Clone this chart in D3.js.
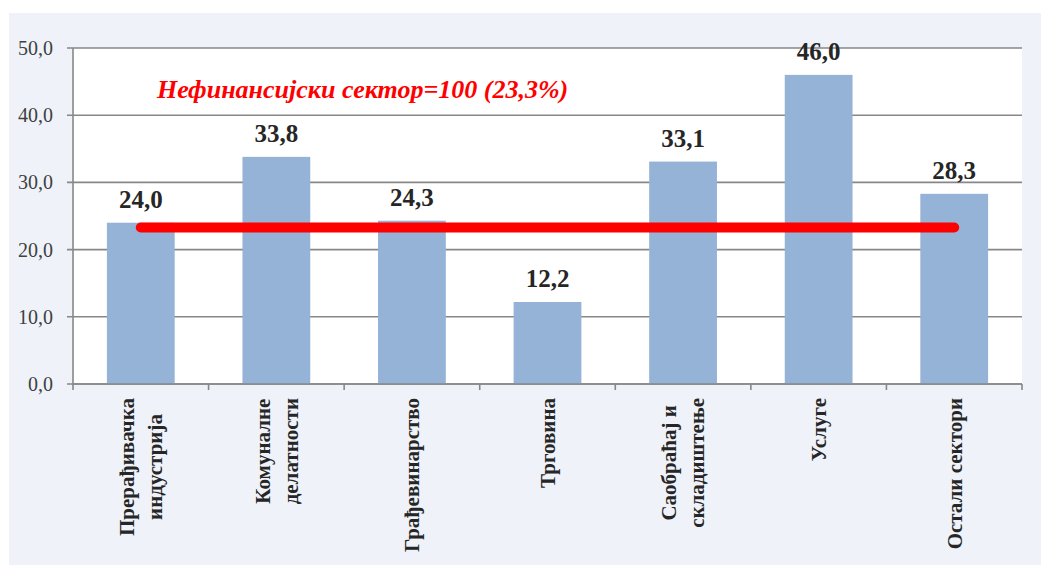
<!DOCTYPE html>
<html>
<head>
<meta charset="utf-8">
<script src="https://cdn.jsdelivr.net/npm/d3@7"></script>
<style>
  html, body { margin: 0; padding: 0; background: #ffffff; }
  svg { display: block; }
  svg text { font-family: "Liberation Serif", "Times New Roman", Tinos, "DejaVu Serif", serif; }
</style>
</head>
<body>
<svg id="chart" width="1041" height="565"></svg>
<script>
const categories = [
  ["Прерађивачка", "индустрија"],
  ["Комуналне", "делатности"],
  ["Грађевинарство"],
  ["Трговина"],
  ["Саобраћај и", "складиштење"],
  ["Услуге"],
  ["Остали сектори"]
];
const values = [24.0, 33.8, 24.3, 12.2, 33.1, 46.0, 28.3];
const averageValue = 23.3;
const yTicks = [0, 10, 20, 30, 40, 50];
const referenceLabel = "Нефинансијски сектор=100 (23,3%)";

(function () {
const svg = d3.select("#chart");

// outer panel
svg.append("rect").attr("x", 9).attr("y", 13).attr("width", 1032).attr("height", 552).attr("fill", "#eff3f9");

const pLeft = 73, pRight = 1022, pTop = 48, pBottom = 384;
svg.append("rect").attr("x", pLeft).attr("y", pTop).attr("width", pRight - pLeft).attr("height", pBottom - pTop).attr("fill", "#ffffff");

const x = d3.scaleBand().domain(d3.range(categories.length)).range([pLeft, pRight]).paddingInner(0.5).paddingOuter(0.25);
const y = d3.scaleLinear().domain([0, 50]).range([pBottom, pTop]);
const fmt = v => d3.format(".1f")(v).replace(".", ",");

// grid lines
svg.append("g").selectAll("line").data(yTicks).join("line")
  .attr("x1", pLeft - 6).attr("x2", pRight)
  .attr("y1", d => y(d)).attr("y2", d => y(d))
  .attr("stroke", "#878787").attr("stroke-width", 1.6);

// y axis line
svg.append("line").attr("x1", pLeft).attr("x2", pLeft).attr("y1", pTop).attr("y2", pBottom + 1)
  .attr("stroke", "#878787").attr("stroke-width", 1.6);

// y tick labels
svg.append("g").selectAll("text").data(yTicks).join("text")
  .attr("x", 53).attr("y", d => y(d)).attr("dy", "0.35em")
  .attr("text-anchor", "end")
  .attr("font-size", 20).attr("fill", "#404040")
  .text(d => fmt(d));

// bars
svg.append("g").selectAll("rect").data(values).join("rect")
  .attr("x", (d, i) => x(i)).attr("width", x.bandwidth())
  .attr("y", d => y(d)).attr("height", d => y(0) - y(d))
  .attr("fill", "#95b3d7");

// x axis ticks at band boundaries
const step = x.step();
const boundaries = d3.range(categories.length + 1).map(i => pLeft + i * step);
svg.append("g").selectAll("line").data(boundaries).join("line")
  .attr("x1", d => d).attr("x2", d => d).attr("y1", pBottom).attr("y2", pBottom + 6)
  .attr("stroke", "#878787").attr("stroke-width", 1.6);
svg.append("line").attr("x1", pLeft).attr("x2", pRight).attr("y1", pBottom).attr("y2", pBottom)
  .attr("stroke", "#878787").attr("stroke-width", 1.6);

// value labels
svg.append("g").selectAll("text").data(values).join("text")
  .attr("x", (d, i) => x(i) + x.bandwidth() / 2)
  .attr("y", d => y(d) - 15)
  .attr("text-anchor", "middle")
  .attr("font-size", 25).attr("font-weight", "bold").attr("fill", "#262626")
  .text(d => fmt(d));

// average line
svg.append("line")
  .attr("x1", x(0) + x.bandwidth() / 2).attr("x2", x(categories.length - 1) + x.bandwidth() / 2)
  .attr("y1", y(averageValue)).attr("y2", y(averageValue))
  .attr("stroke", "#ff0000").attr("stroke-width", 10).attr("stroke-linecap", "round");

// reference label
svg.append("text").attr("x", 157).attr("y", 98)
  .attr("font-size", 26).attr("font-weight", "bold").attr("font-style", "italic")
  .attr("fill", "#ff0000").text(referenceLabel);

// x category labels (rotated)
const labelTop = 398, lineGap = 28, labelSize = 21;
categories.forEach((lines, i) => {
  const cx = x(i) + x.bandwidth() / 2;
  const g = svg.append("g").attr("transform", `translate(${cx},${labelTop}) rotate(-90)`);
  const texts = lines.map((ln, j) => g.append("text")
    .attr("font-size", labelSize).attr("font-weight", "bold").attr("fill", "#262626")
    .attr("text-anchor", "middle")
    .attr("y", (j - (lines.length - 1) / 2) * lineGap)
    .attr("dy", "0.35em")
    .text(ln));
  const maxLen = d3.max(texts, t => t.node().getComputedTextLength());
  texts.forEach(t => t.attr("x", -maxLen / 2));
});
})();
</script>
</body>
</html>
